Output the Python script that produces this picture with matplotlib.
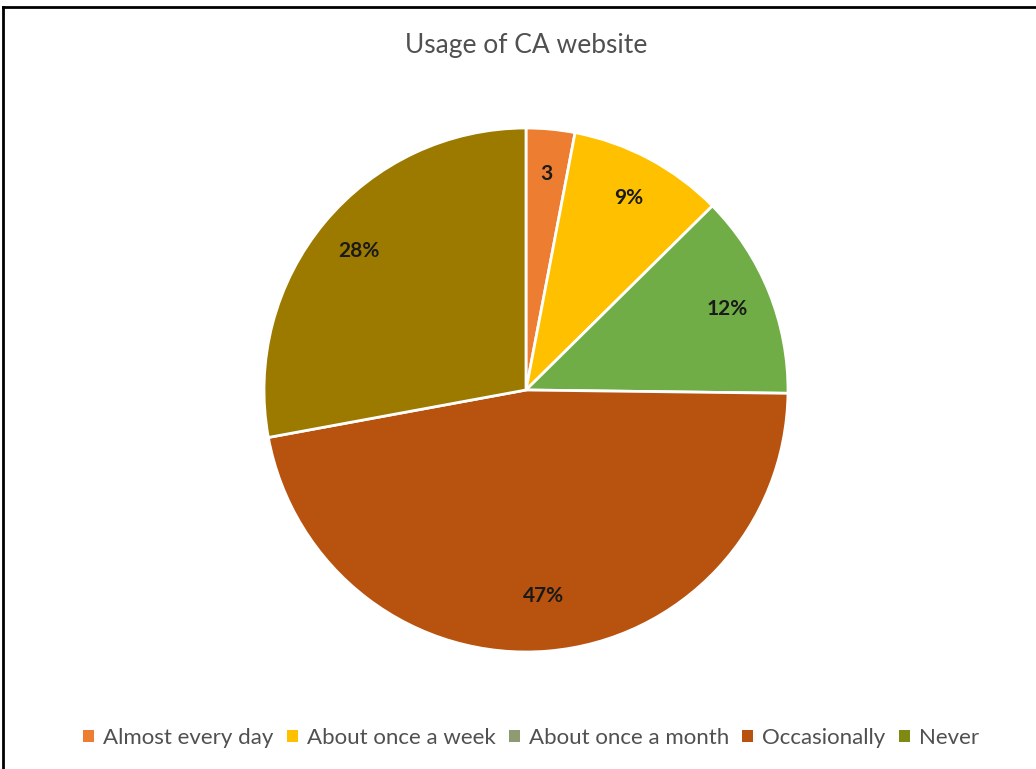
import numpy as np
import matplotlib.pyplot as plt
from matplotlib.lines import Line2D
from matplotlib.patches import Patch

# data
categories = ["Almost every day", "About once a week", "About once a month", "Occasionally", "Never"]
values = [3.0, 9.6, 12.6, 46.9, 27.9]
label_text = ["3", "9%", "12%", "47%", "28%"]
slice_colors = ["#ED7D31", "#FFC000", "#70AD47", "#B8520F", "#9C7A00"]
legend_colors = ["#ED7D31", "#FFC000", "#8E9A72", "#B8520F", "#7E8A12"]

plt.rcParams['font.family'] = ['Lato', 'DejaVu Sans']

W, H = 1036, 769
fig = plt.figure(figsize=(W / 100, H / 100), dpi=100)
fig.patch.set_facecolor("white")

cx, cy, r = 526, 390, 262
ax = fig.add_axes([(cx - r) / W, (H - cy - r) / H, 2 * r / W, 2 * r / H])
wedges, _ = ax.pie(values, colors=slice_colors, startangle=90, counterclock=False,
                   radius=1.0, wedgeprops=dict(edgecolor="white", linewidth=2))
ax.set_aspect("equal")
ax.set_xlim(-1, 1)
ax.set_ylim(-1, 1)

for w, txt in zip(wedges, label_text):
    ang = np.deg2rad((w.theta1 + w.theta2) / 2)
    d = 0.83 if txt != "47%" else 0.79
    ax.text(d * np.cos(ang), d * np.sin(ang), txt, ha="center", va="center",
            fontsize=15, fontweight="bold", color="#1a1a1a")

fig.text(cx / W, 1 - 45 / H, "Usage of CA website", ha="center", va="center",
         fontsize=19, color="#505050")

handles = [Patch(facecolor=c, edgecolor="none") for c in legend_colors]
fig.legend(handles, categories, loc="center", bbox_to_anchor=(531 / W, 1 - 738 / H),
           ncol=5, frameon=False, fontsize=16, handlelength=0.5, handleheight=0.5,
           handletextpad=0.4, columnspacing=0.6, labelcolor="#505050")

# partial frame of the screenshot
fig.add_artist(Line2D([3 / W, 1], [1 - 7 / H, 1 - 7 / H], color="black", lw=2))
fig.add_artist(Line2D([3 / W, 3 / W], [0, 1 - 7 / H], color="black", lw=2))

fig.savefig("out.png", dpi=100)
